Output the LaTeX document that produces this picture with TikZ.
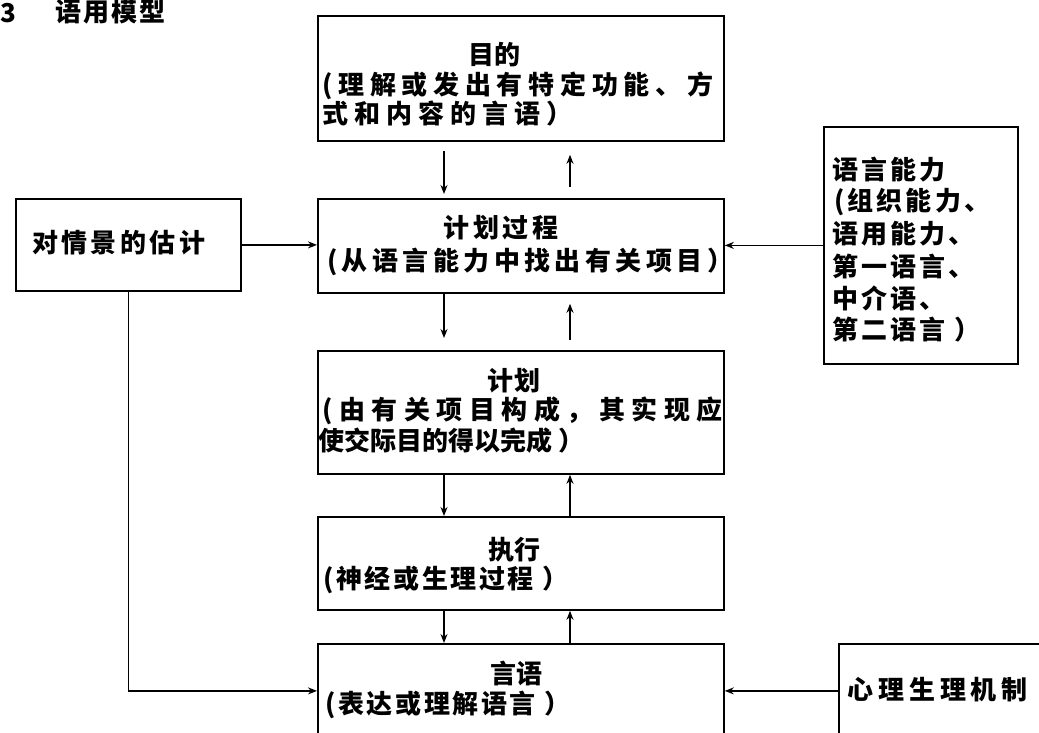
\documentclass[tikz,border=0pt]{standalone}
\usepackage{fontspec}
\newfontfamily\cjkfont{Noto Sans CJK SC}
\usetikzlibrary{arrows.meta}
\newcommand\LS[1]{\addfontfeature{LetterSpace=#1}}
\begin{document}
\begin{tikzpicture}[x=1pt,y=-1pt,
  box/.style={draw, line width=1.8pt, inner sep=0pt, anchor=north west},
  txt/.style={inner sep=0pt, anchor=west, font=\cjkfont\bfseries\fontsize{26}{30}\selectfont},
  arr/.style={line width=1.4pt, -{Stealth[length=9pt,width=7pt]}}]
\useasboundingbox (0,0) rectangle (1039,733);
% boxes
\node[box, minimum width=406pt, minimum height=125pt] (goal) at (317,15) {};
\node[box, minimum width=406pt, minimum height=94pt] (pp) at (317,198) {};
\node[box, minimum width=406pt, minimum height=123pt] (plan) at (317,350) {};
\node[box, minimum width=406pt, minimum height=93pt] (exec) at (317,516) {};
\node[box, minimum width=406pt, minimum height=94pt] (speech) at (317,643) {};
\node[box, minimum width=225pt, minimum height=92pt] (est) at (15,198) {};
\node[box, minimum width=194pt, minimum height=237pt] (lang) at (823,126) {};
\node[box, minimum width=220pt, minimum height=94pt] (psy) at (838,643) {};
% connector columns
\coordinate (dl) at (444,0);
\coordinate (ur) at (570,0);
\draw[arr, shorten <=9pt, shorten >=4pt] (goal.south -| dl) -- (pp.north -| dl);
\draw[arr, shorten <=11pt, shorten >=13pt] (pp.north -| ur) -- (goal.south -| ur);
\draw[arr, shorten >=12pt] (pp.south -| dl) -- (plan.north -| dl);
\draw[arr, shorten <=10pt, shorten >=10pt] (plan.north -| ur) -- (pp.south -| ur);
\draw[arr] (plan.south -| dl) -- (exec.north -| dl);
\draw[arr] (exec.north -| ur) -- (plan.south -| ur);
\draw[arr] (exec.south -| dl) -- (speech.north -| dl);
\draw[arr] (speech.north -| ur) -- (exec.south -| ur);
\draw[arr] (est.east) -- (est.east -| pp.west);
\draw[arr] (lang.west) -- (lang.west -| pp.east);
\draw[arr] (est.south) |- (speech.west);
\draw[arr] (psy.west) -- (speech.east);
% texts
\node[txt] (num) at (0,13) {3};
\node[txt] (title) at (55,12) {\LS{8}语用模型};
\node[txt] (g1) at (468,55) {目的};
\node[txt] (g2) at (322,86) {\LS{22}(理解或发出有特定功能、方};
\node[txt] (g3) at (322,114) {\LS{23}式和内容的言语）};
\node[txt] (p1) at (443,228) {\LS{15}计划过程};
\node[txt] (p2) at (327,262) {\LS{17}(从语言能力中找出有关项目）};
\node[txt] (q1) at (487,381) {\LS{5}计划};
\node[txt] (q2) at (322,411) {\LS{25}(由有关项目构成，其实现应};
\node[txt] (q3) at (318,441) {使交际目的得以完成 ）};
\node[txt] (e1) at (488,550) {执行};
\node[txt] (e2) at (323,580) {\LS{10}(神经或生理过程 ）};
\node[txt] (s1) at (490,673) {言语};
\node[txt] (s2) at (325,705) {\LS{10}(表达或理解语言 ）};
\node[txt] (et) at (32,243) {\LS{13}对情景的估计};
\node[txt] (l1) at (832,170) {\LS{12}语言能力};
\node[txt] (l2) at (834,202) {\LS{12}(组织能力、};
\node[txt] (l3) at (832,234) {\LS{12}语用能力、};
\node[txt] (l4) at (832,266) {\LS{12}第一语言、};
\node[txt] (l5) at (832,298) {\LS{12}中介语、};
\node[txt] (l6) at (832,330) {\LS{12}第二语言 ）};
\node[txt] (m1) at (847,690) {\LS{19}心理生理机制};
\end{tikzpicture}
\end{document}
